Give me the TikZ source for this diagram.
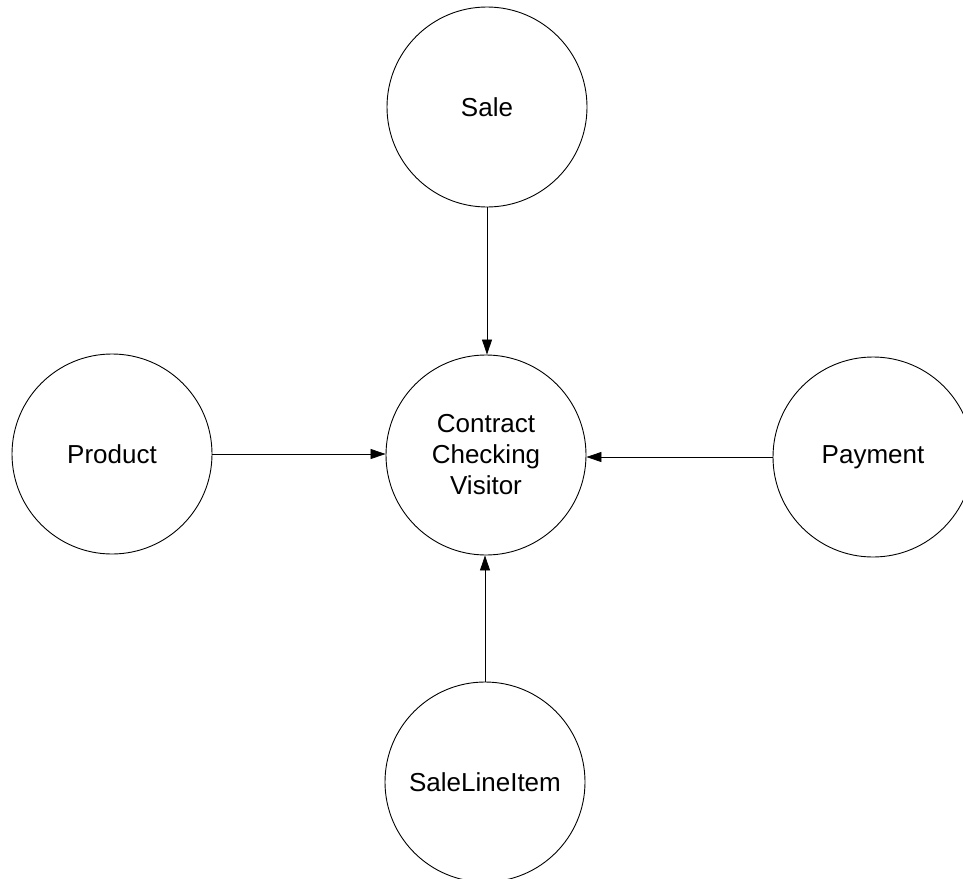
\documentclass[tikz,border=0pt]{standalone}
\usepackage{fontspec}
\setmainfont{Liberation Sans}
\usetikzlibrary{arrows.meta}
\begin{document}
\begin{tikzpicture}[x=1pt,y=-1pt,
  cls/.style={circle,draw=black,line width=0.9pt,minimum size=200pt,inner sep=0pt,
              align=center,font=\fontsize{26}{31}\selectfont},
  link/.style={line width=0.8pt,-{Triangle[length=15pt,width=10pt]}}]
\useasboundingbox (0,0) rectangle (963,878);
\node[cls] (sale)    at (487,107) {Sale};
\node[cls] (visitor) at (486,455) {Contract\\Checking\\Visitor};
\node[cls] (product) at (112,454) {Product};
\node[cls] (payment) at (873,457) {Payment};
\node[cls] (item)    at (485,782) {SaleLineItem};
\draw[link] (sale.south) -- (sale.south |- visitor.north);
\draw[link] (product.east) -- (product.east -| visitor.west);
\draw[link] (payment.west) -- (payment.west -| visitor.east);
\draw[link] (item.north) -- (item.north |- visitor.south);
\end{tikzpicture}
\end{document}
